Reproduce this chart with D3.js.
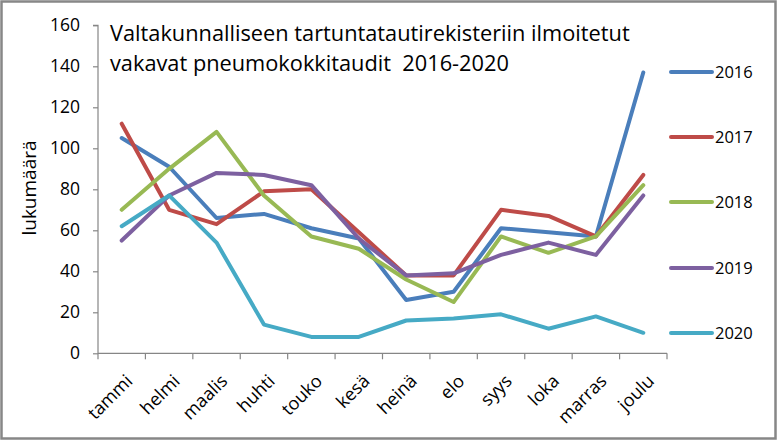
<!DOCTYPE html>
<html><head><meta charset="utf-8">
<script src="https://cdn.jsdelivr.net/npm/d3@7"></script>
<style>
body{margin:0;background:#fff;}
svg{display:block;font-family:"Open Sans",sans-serif;}
</style></head>
<body>
<svg id="c" width="779" height="446"></svg>
<script>
const months = ["tammi","helmi","maalis","huhti","touko","kesä","heinä","elo","syys","loka","marras","joulu"];
const years = ["2016","2017","2018","2019","2020"];
const v2016 = [105, 91, 66, 68, 61, 56, 26, 30, 61, 59, 57, 137];
const v2017 = [112, 70, 63, 79, 80, 59, 38, 38, 70, 67, 57, 87];
const v2018 = [70, 90, 108, 77, 57, 51, 36, 25, 57, 49, 57, 82];
const v2019 = [55, 77, 88, 87, 82, 56, 38, 39, 48, 54, 48, 77];
const v2020 = [62, 77, 54, 14, 8, 8, 16, 17, 19, 12, 18, 10];
const yTicks = [0, 20, 40, 60, 80, 100, 120, 140, 160];
const colors = ["#4A7EBB", "#BE4B48", "#98B954", "#7D60A0", "#46AAC5"];
const titleLines = ["Valtakunnalliseen tartuntatautirekisteriin ilmoitetut", "vakavat pneumokokkitaudit  2016-2020"];
const yTitle = "lukumäärä";

(function(){
const series = [v2016, v2017, v2018, v2019, v2020];
const svg = d3.select("#c");

svg.append("rect").attr("x",1.5).attr("y",1.5).attr("width",774).attr("height",437)
  .attr("fill","#fff").attr("stroke","#878787").attr("stroke-width",2.5);

const pL = 98, pR = 667, pT = 25.3, pB = 353.3;
const x = d3.scaleBand().domain(months).range([pL, pR]);
const y = d3.scaleLinear().domain([0,160]).range([pB, pT]);

const ya = svg.append("g").attr("transform",`translate(${pL},0)`)
  .call(d3.axisLeft(y).tickValues(yTicks).tickSize(5).tickPadding(13));
ya.selectAll("path,line").attr("stroke","#868686").attr("stroke-width",1.2);
ya.select(".domain").attr("d",`M-5,${pT}H0V${pB}`);
ya.selectAll("text").attr("font-size","17.5px").attr("fill","#000").attr("font-family","'Open Sans',sans-serif");

const xa = svg.append("g").attr("transform",`translate(0,${pB})`)
  .call(d3.axisBottom(x).tickSize(0).tickFormat(""));
xa.selectAll("path").attr("stroke","#868686").attr("stroke-width",1.2);
xa.select(".domain").attr("d",`M${pL},0H${pR}`);
const bounds = months.map(m=>x(m)).concat([pR]);
svg.append("g").selectAll("line").data(bounds).join("line")
  .attr("x1",d=>d).attr("x2",d=>d).attr("y1",pB).attr("y2",pB+6)
  .attr("stroke","#868686").attr("stroke-width",1.2);

svg.append("g").selectAll("text").data(months).join("text")
  .attr("transform",d=>`translate(${x(d)+x.bandwidth()/2+3},${pB+20}) rotate(-45)`)
  .attr("text-anchor","end").attr("dy","0.7em")
  .attr("font-size","18px").attr("fill","#000").text(d=>d);

svg.append("text").attr("transform","translate(36,188) rotate(-90)")
  .attr("text-anchor","middle").attr("font-size","19px").attr("fill","#000").text(yTitle);

const line = d3.line().x((d,i)=>x(months[i])+x.bandwidth()/2).y(d=>y(d));
svg.append("g").selectAll("path").data(series).join("path")
  .attr("d",line).attr("fill","none")
  .attr("stroke",(d,i)=>colors[i]).attr("stroke-width",4)
  .attr("stroke-linejoin","round").attr("stroke-linecap","round");

const tg = svg.append("g");
let fs = 20;
titleLines.forEach((t,i)=>{
  const tx = tg.append("text").attr("x",110).attr("y",41+29.5*i)
    .style("white-space","pre")
    .attr("font-size","20px").attr("fill","#000").text(t);
  if(i===0){ fs = 20*520/tx.node().getComputedTextLength(); }
});
tg.selectAll("text").attr("font-size",fs+"px");

const legY = [72, 137, 202, 268, 333];
const lg = svg.append("g").selectAll("g").data(years).join("g")
  .attr("transform",(d,i)=>`translate(670,${legY[i]})`);
lg.append("line").attr("x1",1).attr("x2",42).attr("y1",0).attr("y2",0)
  .attr("stroke",(d,i)=>colors[i]).attr("stroke-width",4).attr("stroke-linecap","round");
lg.append("text").attr("x",45).attr("y",0).attr("dy","0.36em")
  .attr("font-size","16.5px").attr("fill","#000").text(d=>d);
})();
</script>
</body></html>
